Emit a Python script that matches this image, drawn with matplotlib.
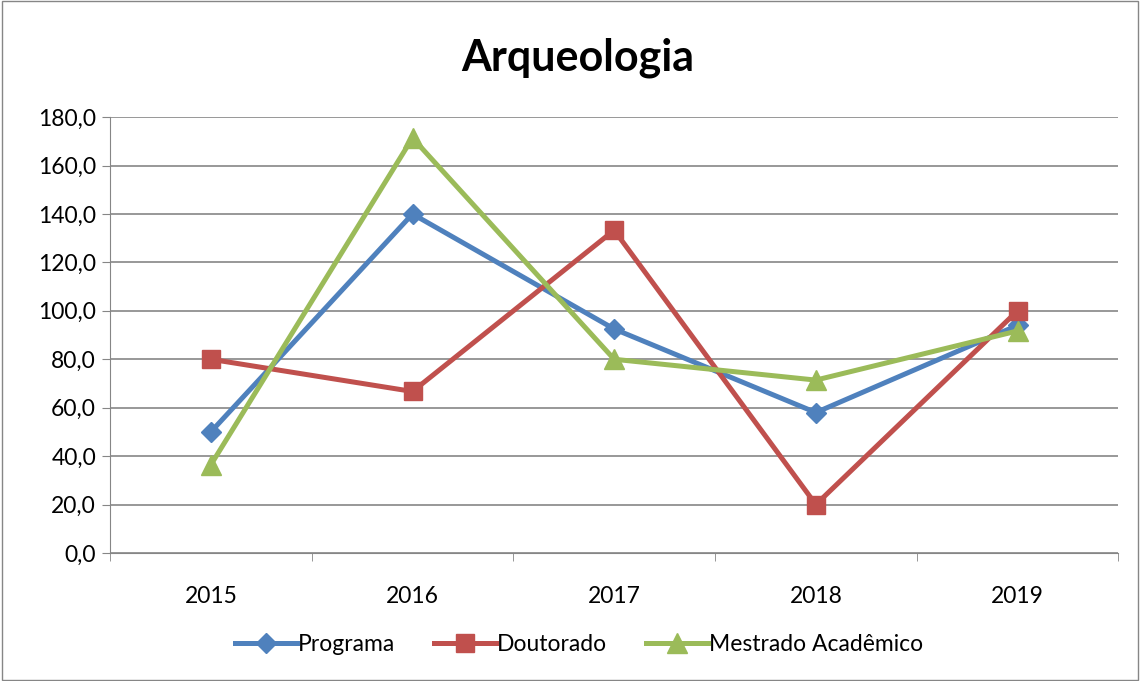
import matplotlib.pyplot as plt
from matplotlib.ticker import FuncFormatter, MultipleLocator, FixedLocator

anos = ['2015', '2016', '2017', '2018', '2019']
programa = [50.0, 140.0, 92.5, 58.0, 94.0]
doutorado = [80.0, 66.7, 133.3, 20.0, 100.0]
mestrado = [36.4, 171.4, 80.0, 71.4, 91.7]

plt.rcParams['font.family'] = ['Lato', 'DejaVu Sans']

fig = plt.figure(figsize=(11.4, 6.81), dpi=100)
ax = fig.add_axes([0.0965, 0.188, 0.8845, 0.640])

x = list(range(len(anos)))
ax.plot(x, programa, color='#4F81BD', lw=3.6, marker='D', ms=10, label='Programa', zorder=3)
ax.plot(x, doutorado, color='#C0504D', lw=3.6, marker='s', ms=13, label='Doutorado', zorder=4)
ax.plot(x, mestrado, color='#9BBB59', lw=3.6, marker='^', ms=14, label='Mestrado Acadêmico', zorder=5)

ax.set_xlim(-0.5, 4.5)
ax.set_ylim(0, 180)
ax.yaxis.set_major_locator(MultipleLocator(20))
ax.yaxis.set_major_formatter(FuncFormatter(lambda v, p: f'{v:.1f}'.replace('.', ',')))
ax.set_xticks(x)
ax.set_xticklabels(anos)
ax.xaxis.set_minor_locator(FixedLocator([i - 0.5 for i in range(len(anos) + 1)]))
ax.tick_params(axis='x', which='major', length=0, pad=24, labelsize=16.5)
ax.tick_params(axis='x', which='minor', length=6, color='#868686', direction='out')
ax.tick_params(axis='y', length=6, color='#868686', labelsize=16.5, pad=4)

ax.grid(axis='y', color='#868686', lw=1.2)
ax.set_axisbelow(True)
for s in ['top', 'right']:
    ax.spines[s].set_visible(False)
ax.spines['left'].set_color('#868686')
ax.spines['bottom'].set_color('#868686')

fig.text(0.507, 0.915, 'Arqueologia', ha='center', va='center', fontsize=31, fontweight='bold')

fig.legend(loc='center', bbox_to_anchor=(0.508, 0.054), ncol=3, frameon=False,
           fontsize=16.5, handlelength=2.7, handletextpad=0.05, columnspacing=1.7)

fig.patches.append(plt.Rectangle((0.002, 0.002), 0.996, 0.996, transform=fig.transFigure,
                                 fill=False, edgecolor='#868686', lw=1))

fig.savefig('out.png', dpi=100)
